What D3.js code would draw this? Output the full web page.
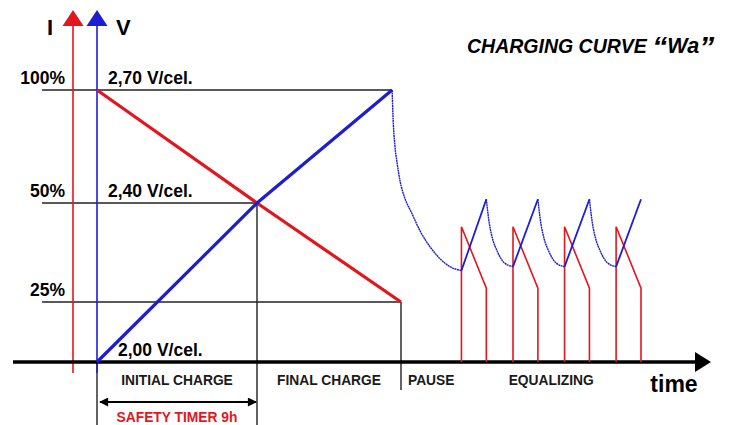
<!DOCTYPE html>
<html>
<head>
<meta charset="utf-8">
<script src="https://cdn.jsdelivr.net/npm/d3@7"></script>
<style>
  body { margin: 0; background: #fff; }
  svg { display: block; font-family: Arial, "Liberation Sans", sans-serif; }
</style>
</head>
<body>
<div id="chart"></div>
<script>
// time in hours: the initial charge lasts the 9h safety timer
const phaseNames = ['INITIAL CHARGE', 'FINAL CHARGE', 'PAUSE', 'EQUALIZING'];
const phaseStart = [0, 9, 17.1, 20.5];
const phaseEnd = [9, 17.1, 20.5, 30.6];

// reference levels
const levelPct = [100, 50, 25];
const levelPctEnd = [16.6, 9, 17.1];
const voltLevels = [2.7, 2.4, 2.0];
const voltLabels = ['2,70 V/cel.', '2,40 V/cel.', '2,00 V/cel.'];

// main charge: current (%) and voltage (V/cell)
const chargeTime = [0, 9, 17.1];
const chargeCurrent = [100, 50, 25];
const voltTime = [0, 9, 16.6];
const voltValues = [2.0, 2.4, 2.7];

// voltage falling during the pause
const pauseTime = [16.6, 16.65, 16.76, 16.87, 17.04, 17.3, 17.7, 18.17, 18.73, 19.29, 19.85, 20.5];
const pauseVolt = [2.70, 2.63, 2.55, 2.51, 2.46, 2.415, 2.375, 2.33, 2.29, 2.26, 2.24, 2.23];

// equalizing pulses
const pulseOn = [20.5, 23.4, 26.3, 29.2];
const pulseOff = [21.9, 24.8, 27.7, 30.6];
const pulseCurrentHigh = 44;
const pulseCurrentLow = 28.5;
const pulseVoltLow = [2.23, 2.24, 2.24, 2.24];
const pulseVoltHigh = [2.41, 2.41, 2.41, 2.41];

// voltage relaxing between pulses
const relaxTime = [
  [21.9, 22.0, 22.1, 22.25, 22.5, 22.9, 23.4],
  [24.8, 24.9, 25.0, 25.15, 25.4, 25.8, 26.3],
  [27.7, 27.8, 27.9, 28.05, 28.3, 28.7, 29.2]
];
const relaxVolt = [
  [2.41, 2.37, 2.34, 2.31, 2.28, 2.25, 2.24],
  [2.41, 2.37, 2.34, 2.31, 2.28, 2.25, 2.24],
  [2.41, 2.37, 2.34, 2.31, 2.28, 2.25, 2.24]
];

const RED = '#e4161d';
const BLUE = '#1d1dd2';

const width = 734, height = 425;
const svg = d3.select('#chart').append('svg')
  .attr('width', width)
  .attr('height', height);

const x = d3.scaleLinear().domain([0, 9]).range([97, 257]);
const yI = d3.scaleLinear().domain([0, 25, 50, 100]).range([362, 302, 203, 90]);
const yV = d3.scaleLinear().domain([2.0, 2.4, 2.7]).range([362, 203, 90]);

const baseY = yI(0);
const labelLeft = 42;

// Reference level lines
levelPct.forEach((p, i) => {
  svg.append('line')
    .attr('x1', labelLeft).attr('x2', x(levelPctEnd[i]))
    .attr('y1', yI(p)).attr('y2', yI(p))
    .attr('stroke', '#222').attr('stroke-width', 1.4);
  svg.append('text')
    .attr('x', 65).attr('y', yI(p) - 6)
    .attr('text-anchor', 'end')
    .attr('font-size', 17.5).attr('font-weight', 'bold')
    .text(`${p}%`);
});

voltLevels.forEach((v, i) => {
  svg.append('text')
    .attr('x', v === 2.0 ? 118 : 108).attr('y', yV(v) - 6)
    .attr('font-size', 17.5).attr('font-weight', 'bold')
    .text(voltLabels[i]);
});

// Phase dividers
svg.append('line')
  .attr('x1', x(0)).attr('x2', x(0)).attr('y1', baseY).attr('y2', height)
  .attr('stroke', '#222').attr('stroke-width', 1.4);
svg.append('line')
  .attr('x1', x(9)).attr('x2', x(9)).attr('y1', yI(50)).attr('y2', height)
  .attr('stroke', '#222').attr('stroke-width', 1.4);
svg.append('line')
  .attr('x1', x(17.1)).attr('x2', x(17.1)).attr('y1', yI(25)).attr('y2', 390)
  .attr('stroke', '#222').attr('stroke-width', 1.4);

// Phase labels
phaseNames.forEach((name, i) => {
  svg.append('text')
    .attr('x', x((phaseStart[i] + phaseEnd[i]) / 2))
    .attr('y', 385)
    .attr('text-anchor', 'middle')
    .attr('font-size', 13.8).attr('font-weight', 'bold')
    .attr('fill', '#1a1a1a')
    .text(name);
});

// Safety timer arrow
const defs = svg.append('defs');
defs.append('marker')
  .attr('id', 'head')
  .attr('viewBox', '0 0 10 10')
  .attr('refX', 9).attr('refY', 5)
  .attr('markerWidth', 10).attr('markerHeight', 9)
  .attr('markerUnits', 'userSpaceOnUse')
  .attr('orient', 'auto-start-reverse')
  .append('path').attr('d', 'M0,0L10,5L0,10Z').attr('fill', '#000');

svg.append('line')
  .attr('x1', x(0) + 3).attr('x2', x(9) - 1)
  .attr('y1', 402).attr('y2', 402)
  .attr('stroke', '#000').attr('stroke-width', 2)
  .attr('marker-start', 'url(#head)')
  .attr('marker-end', 'url(#head)');

svg.append('text')
  .attr('x', x(4.5)).attr('y', 422)
  .attr('text-anchor', 'middle')
  .attr('font-size', 13.8).attr('font-weight', 'bold')
  .attr('fill', RED)
  .text('SAFETY TIMER 9h');

// I and V axes
const iAxisX = 73;
svg.append('line')
  .attr('x1', iAxisX).attr('x2', iAxisX).attr('y1', 24).attr('y2', 373)
  .attr('stroke', RED).attr('stroke-width', 1.6);
svg.append('path')
  .attr('d', `M${iAxisX - 10.5},26L${iAxisX},10L${iAxisX + 10.5},26Z`)
  .attr('fill', RED);

svg.append('line')
  .attr('x1', x(0)).attr('x2', x(0)).attr('y1', 24).attr('y2', 373)
  .attr('stroke', BLUE).attr('stroke-width', 1.6);
svg.append('path')
  .attr('d', `M${x(0) - 10.5},26L${x(0)},10L${x(0) + 10.5},26Z`)
  .attr('fill', BLUE);

svg.append('text')
  .attr('x', 47).attr('y', 35)
  .attr('font-size', 22).attr('font-weight', 'bold')
  .text('I');
svg.append('text')
  .attr('x', 116).attr('y', 35)
  .attr('font-size', 22).attr('font-weight', 'bold')
  .text('V');

// Time axis
svg.append('line')
  .attr('x1', 13).attr('x2', 697)
  .attr('y1', baseY).attr('y2', baseY)
  .attr('stroke', '#000').attr('stroke-width', 3.5);
svg.append('path')
  .attr('d', `M695,${baseY - 10}L711,${baseY}L695,${baseY + 10}Z`)
  .attr('fill', '#000');
svg.append('text')
  .attr('x', 674).attr('y', 392)
  .attr('text-anchor', 'middle')
  .attr('font-size', 23).attr('font-weight', 'bold')
  .text('time');

// Title
const title = svg.append('text')
  .attr('x', 467).attr('y', 53)
  .attr('font-weight', 'bold').attr('font-style', 'italic')
  .attr('font-size', 19.5);
title.append('tspan').text('CHARGING CURVE ');
title.append('tspan').attr('font-size', 30).attr('dy', 4).text('\u201C');
title.append('tspan').attr('font-size', 21.5).attr('dy', -4).text('Wa');
title.append('tspan').attr('font-size', 30).attr('dy', 4).text('\u201D');

// Equalizing current pulses
const pulseLine = d3.line().x(d => x(d[0])).y(d => yI(d[1]));
pulseOn.forEach((t0, i) => {
  const pts = [
    [t0, 0], [t0, pulseCurrentHigh],
    [pulseOff[i], pulseCurrentLow], [pulseOff[i], 0]
  ];
  svg.append('path')
    .attr('d', pulseLine(pts))
    .attr('fill', 'none')
    .attr('stroke', RED).attr('stroke-width', 1.6);
});

// Equalizing voltage ramps and relaxation
const vLine = d3.line().x(d => x(d[0])).y(d => yV(d[1]));
pulseOn.forEach((t0, i) => {
  svg.append('path')
    .attr('d', vLine([[t0, pulseVoltLow[i]], [pulseOff[i], pulseVoltHigh[i]]]))
    .attr('fill', 'none')
    .attr('stroke', BLUE).attr('stroke-width', 1.8);
});

const relaxLine = d3.line()
  .x(d => x(d[0])).y(d => yV(d[1]))
  .curve(d3.curveMonotoneX);
relaxTime.forEach((ts, i) => {
  svg.append('path')
    .datum(ts.map((t, j) => [t, relaxVolt[i][j]]))
    .attr('d', relaxLine)
    .attr('fill', 'none')
    .attr('stroke', BLUE).attr('stroke-width', 1.4)
    .attr('stroke-dasharray', '2,0.5');
});

svg.append('path')
  .datum(pauseTime.map((t, j) => [t, pauseVolt[j]]))
  .attr('d', relaxLine)
  .attr('fill', 'none')
  .attr('stroke', BLUE).attr('stroke-width', 1.4)
  .attr('stroke-dasharray', '2,0.5');

// Main charge lines
svg.append('path')
  .datum(chargeTime.map((t, j) => [t, chargeCurrent[j]]))
  .attr('d', pulseLine)
  .attr('fill', 'none')
  .attr('stroke', RED).attr('stroke-width', 3.2);

svg.append('path')
  .datum(voltTime.map((t, j) => [t, voltValues[j]]))
  .attr('d', vLine)
  .attr('fill', 'none')
  .attr('stroke', BLUE).attr('stroke-width', 3.2);
</script>
</body>
</html>
